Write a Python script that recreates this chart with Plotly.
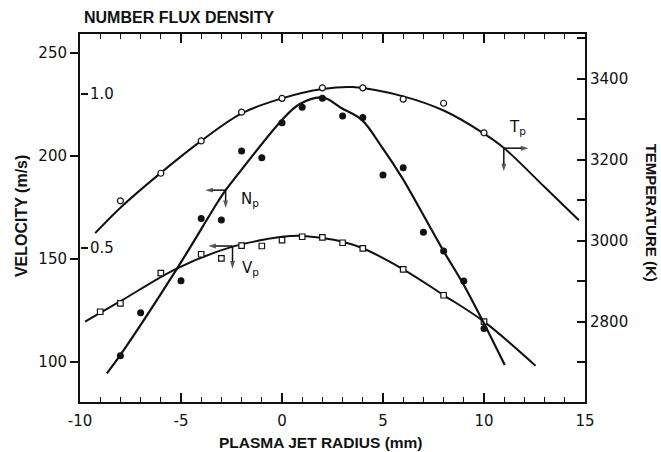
import plotly.graph_objects as go

# ---------------- data ----------------
radius_pts = [-8, -6, -4, -2, 0, 2, 4, 6, 8, 10]
temp_pts = [3099, 3167, 3247, 3318, 3352, 3378, 3378, 3350, 3340, 3267]
temp_curve_x = [-9.25, -8, -6, -4, -2, 0, 2, 3.5, 6, 8, 10, 11, 13, 14.7]
temp_curve_y = [3019, 3082, 3168, 3247, 3315, 3352, 3375, 3380, 3357, 3322, 3265, 3229, 3133, 3051]

vel_x = [-9, -8, -6, -4, -3, -2, -1, 0, 1, 2, 3, 4, 6, 8, 10]
vel_pts = [124.4, 128.5, 143.1, 152.3, 150.3, 156.5, 156.3, 159.2, 160.8, 160.5, 157.9, 155.2, 145.0, 132.4, 119.6]
vel_curve_x = [-9.75, -8, -5.19, -2.45, -1, 0, 1, 2, 3, 4, 6, 8, 10, 12.55]
vel_curve_y = [119.6, 129.5, 145.5, 156.0, 159.2, 160.8, 161.2, 160.2, 158.4, 155.2, 145.0, 132.5, 119.6, 98.2]

flux_x = [-8, -7, -5, -4, -3, -2, -1, 0, 1, 2, 3, 4, 5, 6, 7, 8, 9, 10]
flux_pts = [0.150, 0.290, 0.394, 0.596, 0.591, 0.815, 0.793, 0.907, 0.957, 0.986,
            0.929, 0.924, 0.737, 0.761, 0.551, 0.490, 0.393, 0.239]
flux_curve_x = [-8.67, -8, -5.19, -3.12, -2.79, -1.95, 0, 0.86, 2, 2.96, 3.95, 4.93, 5.92, 6.58, 8, 9, 10, 11.03]
flux_curve_y = [0.093, 0.153, 0.434, 0.656, 0.688, 0.759, 0.916, 0.967, 0.989, 0.954,
                0.916, 0.829, 0.731, 0.656, 0.490, 0.380, 0.255, 0.120]

x_ticks = [-10, -5, 0, 5, 10, 15]
vel_ticks = [100, 150, 200, 250]
flux_ticks = [0.5, 1.0]
flux_labels = ["0.5", "1.0"]
temp_ticks = [2800, 3000, 3200, 3400]

# marker arrows: (axis, tail x, tail y, head x, head y)
arrow_marks = [
    ("y2", -2.79, 0.688, -3.8, 0.688),
    ("y2", -2.79, 0.688, -2.79, 0.630),
    ("y", -2.45, 156.3, -3.65, 156.3),
    ("y", -2.45, 156.3, -2.45, 145.3),
    ("y3", 10.98, 3229, 12.2, 3229),
    ("y3", 10.98, 3229, 10.98, 3172),
]

# ---------------- figure ----------------
BLACK = "#111111"
TICKFONT = dict(family="DejaVu Sans", size=15, color=BLACK)
fig = go.Figure()

fig.add_trace(go.Scatter(x=temp_curve_x, y=temp_curve_y, mode="lines", yaxis="y3",
                         line=dict(color=BLACK, width=2, shape="spline", smoothing=1.0),
                         showlegend=False, hoverinfo="skip"))
fig.add_trace(go.Scatter(x=radius_pts, y=temp_pts, mode="markers", yaxis="y3",
                         marker=dict(symbol="circle", size=6, color="white",
                                     line=dict(color=BLACK, width=1.2)),
                         showlegend=False))

fig.add_trace(go.Scatter(x=vel_curve_x, y=vel_curve_y, mode="lines", yaxis="y",
                         line=dict(color=BLACK, width=2, shape="spline", smoothing=1.0),
                         showlegend=False, hoverinfo="skip"))
fig.add_trace(go.Scatter(x=vel_x, y=vel_pts, mode="markers", yaxis="y",
                         marker=dict(symbol="square", size=5.5, color="white",
                                     line=dict(color=BLACK, width=1.2)),
                         showlegend=False))

fig.add_trace(go.Scatter(x=flux_curve_x, y=flux_curve_y, mode="lines", yaxis="y2",
                         line=dict(color=BLACK, width=2.2, shape="spline", smoothing=1.0),
                         showlegend=False, hoverinfo="skip"))
fig.add_trace(go.Scatter(x=flux_x, y=flux_pts, mode="markers", yaxis="y2",
                         marker=dict(symbol="circle", size=7, color=BLACK),
                         showlegend=False))

for ax, x0, y0, x1, y1 in arrow_marks:
    fig.add_trace(go.Scatter(x=[x0, x1], y=[y0, y1], mode="lines+markers", yaxis=ax,
                             line=dict(color=BLACK, width=1.5),
                             marker=dict(symbol="arrow", angleref="previous", size=[0, 8],
                                         color=BLACK, line=dict(width=0)),
                             showlegend=False, hoverinfo="skip"))

fig.update_layout(
    width=661, height=452,
    margin=dict(l=80, r=76, t=34, b=50),
    paper_bgcolor="white", plot_bgcolor="white",
    showlegend=False,
    xaxis=dict(range=[-10, 15], tickvals=x_ticks, ticktext=[str(v) for v in x_ticks],
               ticks="inside", ticklen=9, tickwidth=1.5, tickcolor=BLACK,
               showline=True, linewidth=2, linecolor=BLACK, mirror="ticks",
               minor=dict(dtick=1, ticks="inside", ticklen=5, tickwidth=1.3, tickcolor=BLACK),
               showgrid=False, zeroline=False, tickfont=TICKFONT, ticklabelstandoff=4),
    yaxis=dict(range=[80.6, 259.2], tickvals=vel_ticks, ticks="outside", ticklen=8,
               tickwidth=1.5, tickcolor=BLACK, showline=True, linewidth=2, linecolor=BLACK,
               showgrid=False, zeroline=False, tickfont=TICKFONT),
    yaxis2=dict(range=[0, 1.195], overlaying="y", anchor="free", position=0, side="right",
                tickvals=flux_ticks, ticktext=flux_labels, ticks="outside",
                ticklen=7, tickwidth=1.5, tickcolor=BLACK, showline=False,
                showgrid=False, zeroline=False, tickfont=TICKFONT, ticklabelstandoff=-1),
    yaxis3=dict(range=[2602, 3511], overlaying="y", side="right", tickvals=temp_ticks,
                ticks="inside", ticklen=8, tickwidth=1.5,
                minor=dict(tick0=2700, dtick=200, ticks="inside", ticklen=8, tickwidth=1.5,
                           tickcolor=BLACK),
                tickcolor=BLACK, showline=True, linewidth=2, linecolor=BLACK,
                showgrid=False, zeroline=False, tickfont=TICKFONT),
)

TITLE_FONT = dict(family="Liberation Sans", size=16, color=BLACK)
LABEL_FONT = dict(family="DejaVu Sans", size=15, color=BLACK)

annotations = [
    dict(text="<b>NUMBER FLUX DENSITY</b>", xref="paper", yref="paper", x=0.004, y=1.0435,
         xanchor="left", yanchor="middle", showarrow=False, font=TITLE_FONT),
    dict(text="<b>VELOCITY (m/s)</b>", xref="paper", yref="paper", x=-0.117, y=0.505,
         xanchor="center", yanchor="middle", textangle=-90, showarrow=False, font=TITLE_FONT),
    dict(text="<b>TEMPERATURE (K)</b>", xref="paper", yref="paper", x=1.131, y=0.514,
         xanchor="center", yanchor="middle", textangle=90, showarrow=False,
         font=dict(family="Liberation Sans", size=15, color=BLACK)),
    dict(text="<b>PLASMA JET RADIUS (mm)</b>", xref="paper", yref="paper", x=0.477, y=-0.111,
         xanchor="center", yanchor="middle", showarrow=False,
         font=dict(family="Liberation Sans", size=15.5, color=BLACK)),
    dict(text="N<sub>p</sub>", xref="paper", yref="paper", x=0.337, y=0.55,
         xanchor="center", yanchor="middle", showarrow=False, font=LABEL_FONT),
    dict(text="V<sub>p</sub>", xref="paper", yref="paper", x=0.337, y=0.364,
         xanchor="center", yanchor="middle", showarrow=False, font=LABEL_FONT),
    dict(text="T<sub>p</sub>", xref="paper", yref="paper", x=0.866, y=0.745,
         xanchor="center", yanchor="middle", showarrow=False, font=LABEL_FONT),
]

fig.update_layout(annotations=annotations)
fig.write_html("out.html")
